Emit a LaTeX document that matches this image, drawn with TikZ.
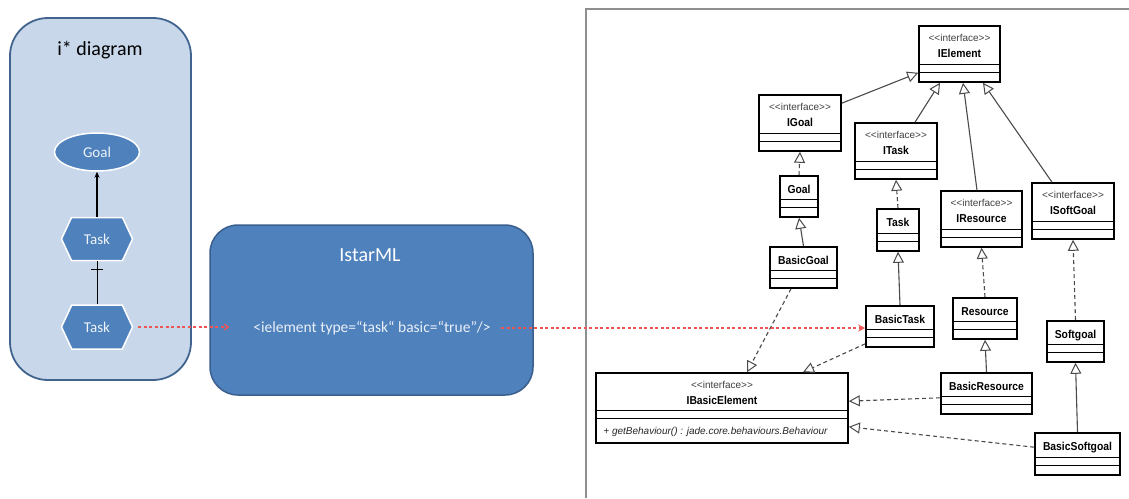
\documentclass[tikz,border=0pt]{standalone}
\usepackage{fontspec}
\setmainfont{Carlito}
\newfontfamily\umlfont{Liberation Sans}
\newfontfamily\umlnarrow[FakeStretch=0.9]{Liberation Sans}
\usetikzlibrary{arrows.meta,shapes.geometric,shapes.symbols,fit,calc}
\definecolor{panelfill}{HTML}{C8D7EA}
\definecolor{panelline}{HTML}{41648F}
\definecolor{accent}{HTML}{4F81BD}
\definecolor{accentline}{HTML}{3B5F8C}
\definecolor{redlink}{HTML}{F05555}
\definecolor{framegray}{HTML}{8F8F8F}
\definecolor{linkgray}{HTML}{4A4A4A}

\newcommand\uclsbox[5]{%
  \node[ubox, fit={(#2,#3)(#4,#5)}] (#1) {};
  \draw[usep] ([yshift=18pt]#1.south west) -- ([yshift=18pt]#1.south east);
  \draw[usep] ([yshift=10pt]#1.south west) -- ([yshift=10pt]#1.south east);
}
\newcommand\ucls[6]{%
  \uclsbox{#1}{#2}{#3}{#4}{#5}
  \node[uname] (#1-t) at ([yshift=-18pt]#1.north) {#6};
}
\newcommand\uint[6]{%
  \uclsbox{#1}{#2}{#3}{#4}{#5}
  \node[stereo] (#1-s) at ([yshift=-16.5pt]#1.north) {<<interface>>};
  \node[uname] (#1-t) at ([yshift=-32pt]#1.north) {#6};
}

\begin{document}
\begin{tikzpicture}[x=1pt,y=-1pt,
  ubox/.style={draw=black, line width=1.6pt, fill=white, inner sep=0pt},
  usep/.style={draw=black, line width=1.2pt},
  stereo/.style={font=\umlfont\fontsize{10}{11}\selectfont, text=black!75, anchor=base, inner sep=0pt},
  uname/.style={font=\umlnarrow\bfseries\fontsize{11.5}{12}\selectfont, anchor=base, inner sep=0pt},
  gen/.style={draw=linkgray, line width=1.1pt, -{Triangle[fill=white, length=11pt, width=11pt, line width=1pt]}},
  real/.style={gen, dash pattern=on 4pt off 3pt},
  redlk/.style={draw=redlink, line width=1.2pt, dash pattern=on 3pt off 2.5pt},
  istarshape/.style={fill=accent, draw=white, line width=1.5pt, inner sep=0pt, text=white!90!accent, font=\fontsize{15}{18}\selectfont},
]
\fill[white] (0,0) rectangle (1129,498);
\useasboundingbox (0,0) rectangle (1129,498);

% ---------- left panel ----------
\node[draw=panelline, line width=1.8pt, fill=panelfill, rounded corners=38pt, inner sep=0pt, fit={(10,18)(191,380)}] (lpanel) {};
\node[font=\fontsize{20}{24}\selectfont] (ltitle) at (100,50) {i* diagram};
\node[istarshape, ellipse, minimum width=85pt, minimum height=38pt] (lgoal) at (97,152) {Goal};
\node[istarshape, signal, signal to=west and east, signal pointer angle=130, minimum width=71pt, minimum height=43pt] (ltask1) at (97,239) {Task};
\node[istarshape, signal, signal to=west and east, signal pointer angle=130, minimum width=71pt, minimum height=44pt] (ltask2) at (97,327) {Task};
\draw[line width=1.2pt, -{Stealth[length=6pt,width=5pt]}] (ltask1.north) -- (lgoal.south);
\draw[line width=1pt] (ltask2.north) -- (ltask1.south);
\draw[line width=1pt] ([xshift=-6pt,yshift=-8pt]ltask1.south) -- ([xshift=6pt,yshift=-8pt]ltask1.south);

% ---------- IstarML ----------
\node[fill=accent, draw=accentline, line width=1.5pt, rounded corners=28pt, inner sep=0pt, fit={(210,225)(533,395)}] (istar) {};
\node[text=white, font=\fontsize{20}{24}\selectfont] (istartitle) at (370,255) {IstarML};
\node[text=white!88!accent, font=\fontsize{15.5}{18}\selectfont] (elem) at (372,328) {<ielement type=“task“ basic=“true”/>};

% ---------- UML frame ----------
\draw[framegray, line width=2.5pt] (586,498) -- (586,9) -- (1129,9);

\uint{IElement}{919}{26}{1000}{82}{IElement}
\uint{IGoal}{759}{95}{841}{151}{IGoal}
\uint{ITask}{855}{123}{937}{179}{ITask}
\uint{IResource}{941}{191}{1022}{247}{IResource}
\uint{ISoftGoal}{1032}{183}{1114}{239}{ISoftGoal}
\ucls{Goal}{780}{176}{818}{217}{Goal}
\ucls{Task}{877}{209}{919}{251}{Task}
\ucls{BasicGoal}{770}{247}{837}{288}{BasicGoal}
\ucls{BasicTask}{866}{306}{934}{347}{BasicTask}
\ucls{Resource}{953}{298}{1017}{339}{Resource}
\ucls{Softgoal}{1047}{321}{1104}{362}{Softgoal}
\ucls{BasicResource}{941}{373}{1032}{414}{BasicResource}
\ucls{BasicSoftgoal}{1035}{433}{1120}{475}{BasicSoftgoal}

% IBasicElement
\node[ubox, fit={(596,373)(848,443)}] (IBasicElement) {};
\draw[usep] ([yshift=33pt]IBasicElement.south west) -- ([yshift=33pt]IBasicElement.south east);
\draw[usep] ([yshift=25pt]IBasicElement.south west) -- ([yshift=25pt]IBasicElement.south east);
\node[stereo] (IBasicElement-s) at ([yshift=-16.5pt]IBasicElement.north) {<<interface>>};
\node[uname] (IBasicElement-t) at ([yshift=-32pt]IBasicElement.north) {IBasicElement};
\node[font=\umlfont\itshape\fontsize{10}{12}\selectfont, anchor=base west, inner sep=0pt, text=black!85] (IBasicElement-m) at ([xshift=8pt,yshift=9pt]IBasicElement.south west) {+ getBehaviour() : jade.core.behaviours.Behaviour};

% ---------- generalizations / realizations ----------
\draw[gen] ([yshift=-9pt]IGoal.north east) -- ([yshift=10pt]IElement.south west);
\draw[gen] ([xshift=19pt]ITask.north) -- ([xshift=-19.5pt]IElement.south);
\draw[gen] ([xshift=-4.5pt]IResource.north) -- ([xshift=3.5pt]IElement.south);
\draw[gen] ([xshift=-21pt]ISoftGoal.north) -- ([xshift=23.5pt]IElement.south);
\draw[real] (Goal.north) -- (IGoal.south);
\draw[gen] (BasicGoal.north) -- (Goal.south);
\draw[real] (Task.north) -- (ITask.south);
\draw[gen] (BasicTask.north) -- (Task.south);
\draw[real] (Resource.north) -- (IResource.south);
\draw[gen] (BasicResource.north) -- (Resource.south);
\draw[real] (Softgoal.north) -- (ISoftGoal.south);
\draw[gen] (BasicSoftgoal.north) -- (Softgoal.south);
\draw[real] ([xshift=-12.5pt]BasicGoal.south) -- ([xshift=25pt]IBasicElement.north);
\draw[real] ([yshift=4pt]BasicTask.south west) -- ([xshift=81pt]IBasicElement.north);
\draw[real] ([yshift=17pt]BasicResource.south west) -- ([yshift=-29pt]IBasicElement.north east);
\draw[real] ([yshift=-15pt]BasicSoftgoal.north west) -- ([yshift=17pt]IBasicElement.south east);

% ---------- red mapping arrows ----------
\coordinate (r1s) at ([xshift=5pt]ltask2.east);
\coordinate (r1e) at (ltask2.east -| istar.west);
\draw[redlk, -{Straight Barb[length=4pt,width=6pt]}] (r1s) -- ([xshift=20pt]r1e);
\draw[redlk, -{Stealth[length=7pt,width=7pt]}] ([xshift=7pt]elem.east) -- (elem.east -| BasicTask.west);
\end{tikzpicture}
\end{document}
